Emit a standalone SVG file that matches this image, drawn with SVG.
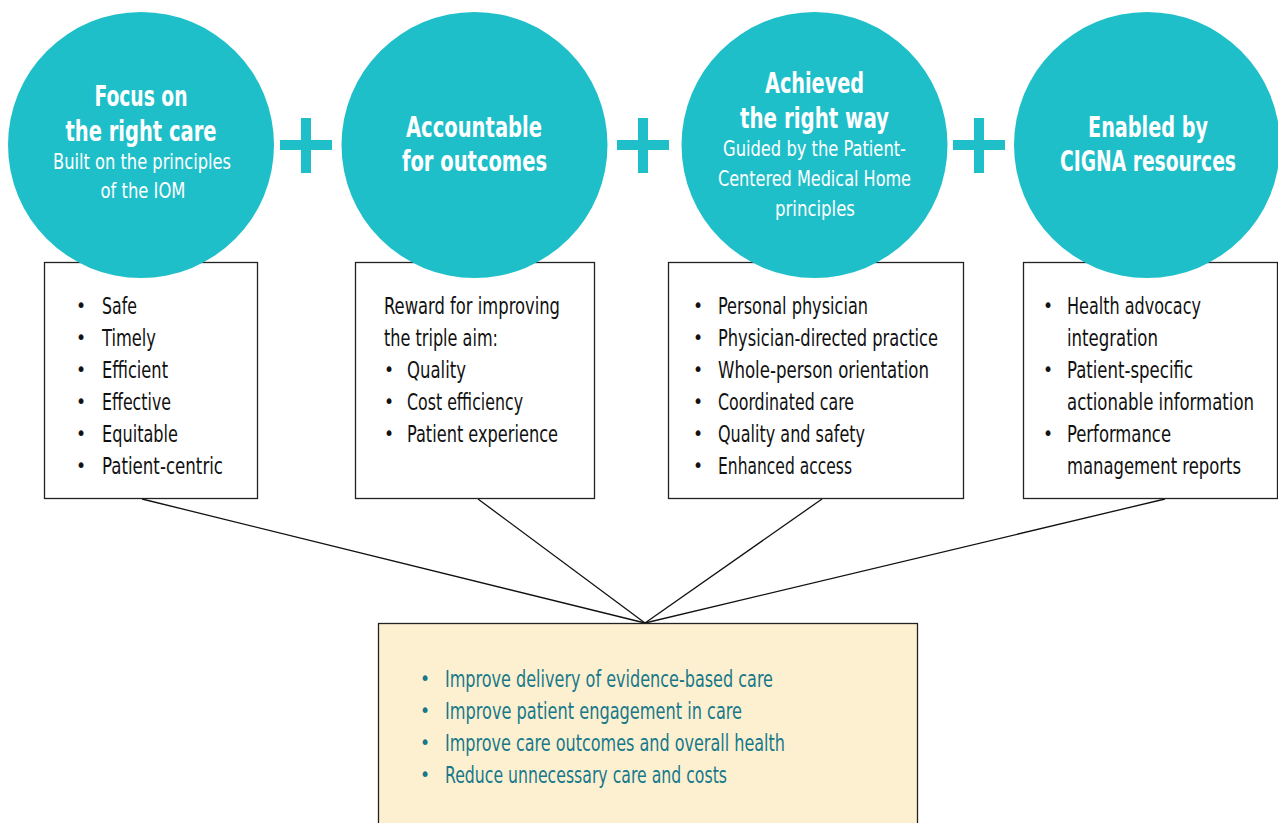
<svg xmlns="http://www.w3.org/2000/svg" width="1278" height="823" viewBox="0 0 1278 823">
  <style>
    text { font-family: "Liberation Sans Narrow", "DejaVu Sans Condensed", "Liberation Sans", sans-serif; }
    .head { font-size: 28px; font-weight: bold; fill: #ffffff; text-anchor: middle; }
    .sub { font-size: 21.5px; fill: #ffffff; text-anchor: middle; }
    .item { font-size: 22.5px; fill: #111111; }
    .goal { font-size: 22.5px; fill: #17788a; }
    .dot { font-size: 19px; fill: #111111; }
    .gdot { font-size: 19px; fill: #17788a; }
    .box { fill: #ffffff; stroke: #222222; stroke-width: 1.3; }
    .circle { fill: #1fbfca; }
    .plus { fill: #1fbfca; }
    .link { stroke: #111111; stroke-width: 1.3; fill: none; }
  </style>

  <rect width="1278" height="823" fill="#ffffff"/>

  <!-- connectors from each list box down to the outcomes box -->
  <g id="connectors">
    <line class="link" x1="142" y1="499" x2="645" y2="623"/>
    <line class="link" x1="478" y1="499" x2="645" y2="623"/>
    <line class="link" x1="822" y1="499" x2="645" y2="623"/>
    <line class="link" x1="1165" y1="499" x2="645" y2="623"/>
  </g>

  <!-- list boxes (drawn first so the circles sit on top of their upper edges) -->
  <g id="box-care">
    <rect class="box" x="44.5" y="262.5" width="213" height="236"/>
    <text class="dot" x="76" y="312">•</text><text class="item" x="102" y="314" textLength="35" lengthAdjust="spacingAndGlyphs">Safe</text>
    <text class="dot" x="76" y="344">•</text><text class="item" x="102" y="346" textLength="54" lengthAdjust="spacingAndGlyphs">Timely</text>
    <text class="dot" x="76" y="376">•</text><text class="item" x="102" y="378" textLength="66" lengthAdjust="spacingAndGlyphs">Efficient</text>
    <text class="dot" x="76" y="408">•</text><text class="item" x="102" y="410" textLength="69" lengthAdjust="spacingAndGlyphs">Effective</text>
    <text class="dot" x="76" y="440">•</text><text class="item" x="102" y="442" textLength="76" lengthAdjust="spacingAndGlyphs">Equitable</text>
    <text class="dot" x="76" y="472">•</text><text class="item" x="102" y="474" textLength="121" lengthAdjust="spacingAndGlyphs">Patient-centric</text>
  </g>

  <g id="box-outcomes">
    <rect class="box" x="355.5" y="262.5" width="239" height="236"/>
    <text class="item" x="384" y="314" textLength="176" lengthAdjust="spacingAndGlyphs">Reward for improving</text>
    <text class="item" x="384" y="346" textLength="114" lengthAdjust="spacingAndGlyphs">the triple aim:</text>
    <text class="dot" x="384" y="376">•</text><text class="item" x="407" y="378" textLength="59" lengthAdjust="spacingAndGlyphs">Quality</text>
    <text class="dot" x="384" y="408">•</text><text class="item" x="407" y="410" textLength="116" lengthAdjust="spacingAndGlyphs">Cost efficiency</text>
    <text class="dot" x="384" y="440">•</text><text class="item" x="407" y="442" textLength="151" lengthAdjust="spacingAndGlyphs">Patient experience</text>
  </g>

  <g id="box-way">
    <rect class="box" x="668.5" y="262.5" width="295" height="236"/>
    <text class="dot" x="693" y="312">•</text><text class="item" x="718" y="314" textLength="150" lengthAdjust="spacingAndGlyphs">Personal physician</text>
    <text class="dot" x="693" y="344">•</text><text class="item" x="718" y="346" textLength="220" lengthAdjust="spacingAndGlyphs">Physician-directed practice</text>
    <text class="dot" x="693" y="376">•</text><text class="item" x="718" y="378" textLength="211" lengthAdjust="spacingAndGlyphs">Whole-person orientation</text>
    <text class="dot" x="693" y="408">•</text><text class="item" x="718" y="410" textLength="136" lengthAdjust="spacingAndGlyphs">Coordinated care</text>
    <text class="dot" x="693" y="440">•</text><text class="item" x="718" y="442" textLength="147" lengthAdjust="spacingAndGlyphs">Quality and safety</text>
    <text class="dot" x="693" y="472">•</text><text class="item" x="718" y="474" textLength="134" lengthAdjust="spacingAndGlyphs">Enhanced access</text>
  </g>

  <g id="box-resources">
    <rect class="box" x="1023.5" y="262.5" width="254" height="236"/>
    <text class="dot" x="1043" y="312">•</text><text class="item" x="1067" y="314" textLength="134" lengthAdjust="spacingAndGlyphs">Health advocacy</text>
    <text class="item" x="1067" y="346" textLength="91" lengthAdjust="spacingAndGlyphs">integration</text>
    <text class="dot" x="1043" y="376">•</text><text class="item" x="1067" y="378" textLength="126" lengthAdjust="spacingAndGlyphs">Patient-specific</text>
    <text class="item" x="1067" y="410" textLength="187" lengthAdjust="spacingAndGlyphs">actionable information</text>
    <text class="dot" x="1043" y="440">•</text><text class="item" x="1067" y="442" textLength="104" lengthAdjust="spacingAndGlyphs">Performance</text>
    <text class="item" x="1067" y="474" textLength="174" lengthAdjust="spacingAndGlyphs">management reports</text>
  </g>

  <!-- pillar circles -->
  <g id="circle-care">
    <circle class="circle" cx="141" cy="145" r="133"/>
    <text class="head" x="141" y="106" textLength="93" lengthAdjust="spacingAndGlyphs">Focus on</text>
    <text class="head" x="141" y="141" textLength="151" lengthAdjust="spacingAndGlyphs">the right care</text>
    <text class="sub" x="142" y="169" textLength="178" lengthAdjust="spacingAndGlyphs">Built on the principles</text>
    <text class="sub" x="143" y="198" textLength="85" lengthAdjust="spacingAndGlyphs">of the IOM</text>
  </g>

  <g id="circle-outcomes">
    <circle class="circle" cx="474.5" cy="145" r="133"/>
    <text class="head" x="474" y="137" textLength="136" lengthAdjust="spacingAndGlyphs">Accountable</text>
    <text class="head" x="474.5" y="171" textLength="145" lengthAdjust="spacingAndGlyphs">for outcomes</text>
  </g>

  <g id="circle-way">
    <circle class="circle" cx="814.5" cy="145" r="133"/>
    <text class="head" x="814.5" y="93" textLength="99" lengthAdjust="spacingAndGlyphs">Achieved</text>
    <text class="head" x="814.5" y="128" textLength="149" lengthAdjust="spacingAndGlyphs">the right way</text>
    <text class="sub" x="814.5" y="156" textLength="183" lengthAdjust="spacingAndGlyphs">Guided by the Patient-</text>
    <text class="sub" x="814.5" y="186" textLength="193" lengthAdjust="spacingAndGlyphs">Centered Medical Home</text>
    <text class="sub" x="815" y="216" textLength="80" lengthAdjust="spacingAndGlyphs">principles</text>
  </g>

  <g id="circle-resources">
    <circle class="circle" cx="1147" cy="145" r="133"/>
    <text class="head" x="1148" y="137" textLength="120" lengthAdjust="spacingAndGlyphs">Enabled by</text>
    <text class="head" x="1148" y="171" textLength="176" lengthAdjust="spacingAndGlyphs">CIGNA resources</text>
  </g>

  <!-- plus signs between the pillars -->
  <g id="plus-1"><rect class="plus" x="280" y="140" width="52" height="10"/><rect class="plus" x="301" y="118" width="10" height="55"/></g>
  <g id="plus-2"><rect class="plus" x="617" y="140" width="52" height="10"/><rect class="plus" x="638" y="118" width="10" height="55"/></g>
  <g id="plus-3"><rect class="plus" x="953" y="140" width="52" height="10"/><rect class="plus" x="974" y="118" width="10" height="55"/></g>

  <!-- outcomes box -->
  <g id="box-goals">
    <rect x="378.5" y="623.5" width="539" height="210" fill="#fdf0d0" stroke="#222222" stroke-width="1.3"/>
    <text class="gdot" x="420" y="685">•</text><text class="goal" x="445" y="687" textLength="328" lengthAdjust="spacingAndGlyphs">Improve delivery of evidence-based care</text>
    <text class="gdot" x="420" y="717">•</text><text class="goal" x="445" y="719" textLength="297" lengthAdjust="spacingAndGlyphs">Improve patient engagement in care</text>
    <text class="gdot" x="420" y="749">•</text><text class="goal" x="445" y="751" textLength="340" lengthAdjust="spacingAndGlyphs">Improve care outcomes and overall health</text>
    <text class="gdot" x="420" y="781">•</text><text class="goal" x="445" y="783" textLength="282" lengthAdjust="spacingAndGlyphs">Reduce unnecessary care and costs</text>
  </g>
</svg>
